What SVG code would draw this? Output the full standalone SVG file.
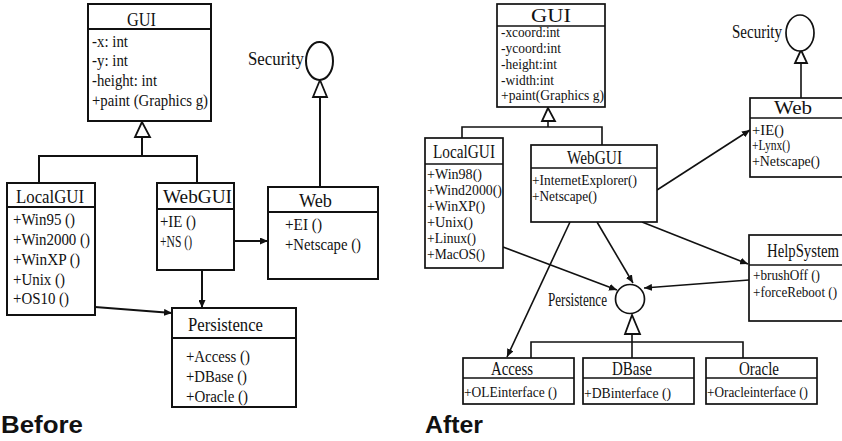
<svg xmlns="http://www.w3.org/2000/svg" width="842" height="441" viewBox="0 0 842 441">
<defs>
<style>
.box{fill:#fff;stroke:#111;stroke-width:2}
.box2{fill:#fff;stroke:#111;stroke-width:1.7}
.ln{fill:none;stroke:#111;stroke-width:2}
.ln2{fill:none;stroke:#111;stroke-width:1.6}
.tri{fill:#fff;stroke:#111;stroke-width:1.8}
.t{font-family:"Liberation Serif","Times New Roman",serif;fill:#111}
.h1{font-size:19px}
.i1{font-size:17px}
.h2{font-size:18px}
.i2{font-size:15px}
.cap{font-family:"Liberation Sans",Arial,sans-serif;font-weight:bold;font-size:23px;fill:#111}
</style>
<marker id="ar" markerUnits="userSpaceOnUse" markerWidth="8" markerHeight="7" refX="8" refY="3.5" orient="auto">
<path d="M0,0 L8,3.5 L0,7 z" fill="#111"/>
</marker>
</defs>
<rect width="842" height="441" fill="#fff"/>

<!-- BEFORE -->
<g id="connectors-before">
<polygon class="tri" points="142,122 135,137 150,137"/>
<line class="ln" x1="142" y1="137" x2="142" y2="156"/>
<polyline class="ln" points="39,183 39,156 197,156 197,183"/>
<polygon class="tri" points="320,80 313,97 327,97"/>
<line class="ln" x1="320" y1="97" x2="320" y2="187"/>
<line class="ln" x1="234" y1="241" x2="268" y2="241" marker-end="url(#ar)"/>
<line class="ln" x1="202" y1="270" x2="202" y2="308" marker-end="url(#ar)"/>
<line class="ln" x1="95" y1="307" x2="172" y2="313" marker-end="url(#ar)"/>
</g>

<g id="b-gui">
<rect class="box" x="88" y="4" width="123" height="117"/>
<line class="ln" x1="88" y1="29" x2="211" y2="29"/>
<text class="t h1" x="127" y="26" textLength="29" lengthAdjust="spacingAndGlyphs">GUI</text>
<text class="t i1" x="92" y="47" textLength="36" lengthAdjust="spacingAndGlyphs">-x: int</text>
<text class="t i1" x="92" y="66" textLength="36" lengthAdjust="spacingAndGlyphs">-y: int</text>
<text class="t i1" x="92" y="86" textLength="65" lengthAdjust="spacingAndGlyphs">-height: int</text>
<text class="t i1" x="92" y="106" textLength="116" lengthAdjust="spacingAndGlyphs">+paint (Graphics g)</text>
</g>

<g id="b-security">
<ellipse cx="319.5" cy="61" rx="13.5" ry="19" fill="#fff" stroke="#111" stroke-width="2"/>
<text class="t h1" x="248" y="65" textLength="56" lengthAdjust="spacingAndGlyphs">Security</text>
</g>

<g id="b-localgui">
<rect class="box" x="7" y="183" width="88" height="132"/>
<line class="ln" x1="7" y1="207" x2="95" y2="207"/>
<text class="t h1" x="16" y="203" textLength="68" lengthAdjust="spacingAndGlyphs">LocalGUI</text>
<text class="t i1" x="13" y="225" textLength="62" lengthAdjust="spacingAndGlyphs">+Win95 ()</text>
<text class="t i1" x="13" y="245" textLength="77" lengthAdjust="spacingAndGlyphs">+Win2000 ()</text>
<text class="t i1" x="13" y="265" textLength="67" lengthAdjust="spacingAndGlyphs">+WinXP ()</text>
<text class="t i1" x="13" y="285" textLength="52" lengthAdjust="spacingAndGlyphs">+Unix ()</text>
<text class="t i1" x="13" y="304" textLength="56" lengthAdjust="spacingAndGlyphs">+OS10 ()</text>
</g>

<g id="b-webgui">
<rect class="box" x="157" y="183" width="77" height="87"/>
<line class="ln" x1="157" y1="209" x2="234" y2="209"/>
<text class="t h1" x="163" y="203" textLength="69" lengthAdjust="spacingAndGlyphs">WebGUI</text>
<text class="t i1" x="160" y="227" textLength="36" lengthAdjust="spacingAndGlyphs">+IE ()</text>
<text class="t i1" x="160" y="247" textLength="32" lengthAdjust="spacingAndGlyphs">+NS ()</text>
</g>

<g id="b-web">
<rect class="box" x="268" y="187" width="110" height="92"/>
<line class="ln" x1="268" y1="212" x2="378" y2="212"/>
<text class="t h1" x="299" y="207" textLength="33" lengthAdjust="spacingAndGlyphs">Web</text>
<text class="t i1" x="285" y="230" textLength="37" lengthAdjust="spacingAndGlyphs">+EI ()</text>
<text class="t i1" x="285" y="250" textLength="76" lengthAdjust="spacingAndGlyphs">+Netscape ()</text>
</g>

<g id="b-persistence">
<rect class="box" x="172" y="308" width="124" height="99"/>
<line class="ln" x1="172" y1="338" x2="296" y2="338"/>
<text class="t h1" x="188" y="331" textLength="75" lengthAdjust="spacingAndGlyphs">Persistence</text>
<text class="t i1" x="186" y="362" textLength="64" lengthAdjust="spacingAndGlyphs">+Access ()</text>
<text class="t i1" x="186" y="382" textLength="61" lengthAdjust="spacingAndGlyphs">+DBase ()</text>
<text class="t i1" x="186" y="402" textLength="62" lengthAdjust="spacingAndGlyphs">+Oracle ()</text>
</g>

<text class="cap" x="1" y="433" textLength="82" lengthAdjust="spacingAndGlyphs">Before</text>

<!-- AFTER -->
<g id="connectors-after">
<polygon class="tri" points="548,108 542,121 555,121"/>
<line class="ln2" x1="548" y1="121" x2="548" y2="127"/>
<polyline class="ln2" points="462,138 462,127 602,127 602,145"/>
<polygon class="tri" points="801,50 795,63 807,63"/>
<line class="ln2" x1="801" y1="63" x2="801" y2="98"/>
<polygon class="tri" points="632,315 625,334 640,334"/>
<line class="ln2" x1="632" y1="334" x2="632" y2="358"/>
<polyline class="ln2" points="531,358 531,342 743,342 743,358"/>
<line class="ln2" x1="657" y1="190" x2="750" y2="130" marker-end="url(#ar)"/>
<line class="ln2" x1="570" y1="222" x2="507" y2="357" marker-end="url(#ar)"/>
<line class="ln2" x1="597" y1="222" x2="633" y2="283" marker-end="url(#ar)"/>
<line class="ln2" x1="642" y1="222" x2="748" y2="264" marker-end="url(#ar)"/>
<line class="ln2" x1="503" y1="247" x2="617" y2="290" marker-end="url(#ar)"/>
<line class="ln2" x1="749" y1="280" x2="644" y2="288" marker-end="url(#ar)"/>
</g>

<g id="a-gui">
<rect class="box2" x="497" y="4" width="108" height="103"/>
<line class="ln2" x1="497" y1="26" x2="605" y2="26"/>
<text class="t h2" x="531" y="22" textLength="40" lengthAdjust="spacingAndGlyphs">GUI</text>
<text class="t i2" x="501" y="37" textLength="59" lengthAdjust="spacingAndGlyphs">-xcoord:int</text>
<text class="t i2" x="501" y="53" textLength="60" lengthAdjust="spacingAndGlyphs">-ycoord:int</text>
<text class="t i2" x="501" y="69" textLength="56" lengthAdjust="spacingAndGlyphs">-height:int</text>
<text class="t i2" x="501" y="85" textLength="53" lengthAdjust="spacingAndGlyphs">-width:int</text>
<text class="t i2" x="501" y="100" textLength="103" lengthAdjust="spacingAndGlyphs">+paint(Graphics g)</text>
</g>

<g id="a-security">
<ellipse cx="800" cy="33" rx="14" ry="18" fill="#fff" stroke="#111" stroke-width="1.7"/>
<text class="t h2" x="732" y="38" textLength="50" lengthAdjust="spacingAndGlyphs">Security</text>
</g>

<g id="a-web">
<rect class="box2" x="750" y="98" width="96" height="79"/>
<line class="ln2" x1="750" y1="118" x2="846" y2="118"/>
<text class="t h2" x="774" y="114" textLength="38" lengthAdjust="spacingAndGlyphs">Web</text>
<text class="t i2" x="752" y="135" textLength="32" lengthAdjust="spacingAndGlyphs">+IE()</text>
<text class="t i2" x="752" y="150" textLength="38" lengthAdjust="spacingAndGlyphs">+Lynx()</text>
<text class="t i2" x="752" y="166" textLength="68" lengthAdjust="spacingAndGlyphs">+Netscape()</text>
</g>

<g id="a-localgui">
<rect class="box2" x="425" y="138" width="78" height="130"/>
<line class="ln2" x1="425" y1="164" x2="503" y2="164"/>
<text class="t h2" x="433" y="158" textLength="62" lengthAdjust="spacingAndGlyphs">LocalGUI</text>
<text class="t i2" x="427" y="179" textLength="55" lengthAdjust="spacingAndGlyphs">+Win98()</text>
<text class="t i2" x="427" y="195" textLength="75" lengthAdjust="spacingAndGlyphs">+Wind2000()</text>
<text class="t i2" x="427" y="211" textLength="58" lengthAdjust="spacingAndGlyphs">+WinXP()</text>
<text class="t i2" x="427" y="227" textLength="46" lengthAdjust="spacingAndGlyphs">+Unix()</text>
<text class="t i2" x="427" y="243" textLength="49" lengthAdjust="spacingAndGlyphs">+Linux()</text>
<text class="t i2" x="427" y="259" textLength="58" lengthAdjust="spacingAndGlyphs">+MacOS()</text>
</g>

<g id="a-webgui">
<rect class="box2" x="531" y="145" width="126" height="77"/>
<line class="ln2" x1="531" y1="168" x2="657" y2="168"/>
<text class="t h2" x="567" y="164" textLength="55" lengthAdjust="spacingAndGlyphs">WebGUI</text>
<text class="t i2" x="532" y="185" textLength="105" lengthAdjust="spacingAndGlyphs">+InternetExplorer()</text>
<text class="t i2" x="532" y="201" textLength="65" lengthAdjust="spacingAndGlyphs">+Netscape()</text>
</g>

<g id="a-helpsystem">
<rect class="box2" x="749" y="235" width="97" height="86"/>
<line class="ln2" x1="749" y1="265" x2="846" y2="265"/>
<text class="t h2" x="767" y="257" textLength="72" lengthAdjust="spacingAndGlyphs">HelpSystem</text>
<text class="t i2" x="753" y="280" textLength="67" lengthAdjust="spacingAndGlyphs">+brushOff ()</text>
<text class="t i2" x="753" y="297" textLength="84" lengthAdjust="spacingAndGlyphs">+forceReboot ()</text>
</g>

<g id="a-persistence">
<circle cx="630" cy="299" r="14.5" fill="#fff" stroke="#111" stroke-width="1.7"/>
<text class="t h2" x="548" y="306" textLength="59" lengthAdjust="spacingAndGlyphs">Persistence</text>
</g>

<g id="a-access">
<rect class="box2" x="463" y="358" width="111" height="46"/>
<line class="ln2" x1="463" y1="378" x2="574" y2="378"/>
<text class="t h2" x="491" y="375" textLength="42" lengthAdjust="spacingAndGlyphs">Access</text>
<text class="t i2" x="464" y="397" textLength="93" lengthAdjust="spacingAndGlyphs">+OLEinterface ()</text>
</g>

<g id="a-dbase">
<rect class="box2" x="583" y="358" width="111" height="46"/>
<line class="ln2" x1="583" y1="378" x2="694" y2="378"/>
<text class="t h2" x="612" y="375" textLength="40" lengthAdjust="spacingAndGlyphs">DBase</text>
<text class="t i2" x="584" y="398" textLength="87" lengthAdjust="spacingAndGlyphs">+DBinterface ()</text>
</g>

<g id="a-oracle">
<rect class="box2" x="706" y="358" width="111" height="46"/>
<line class="ln2" x1="706" y1="378" x2="817" y2="378"/>
<text class="t h2" x="739" y="375" textLength="40" lengthAdjust="spacingAndGlyphs">Oracle</text>
<text class="t i2" x="707" y="397" textLength="101" lengthAdjust="spacingAndGlyphs">+Oracleinterface ()</text>
</g>

<text class="cap" x="425" y="433" textLength="58" lengthAdjust="spacingAndGlyphs">After</text>
</svg>
